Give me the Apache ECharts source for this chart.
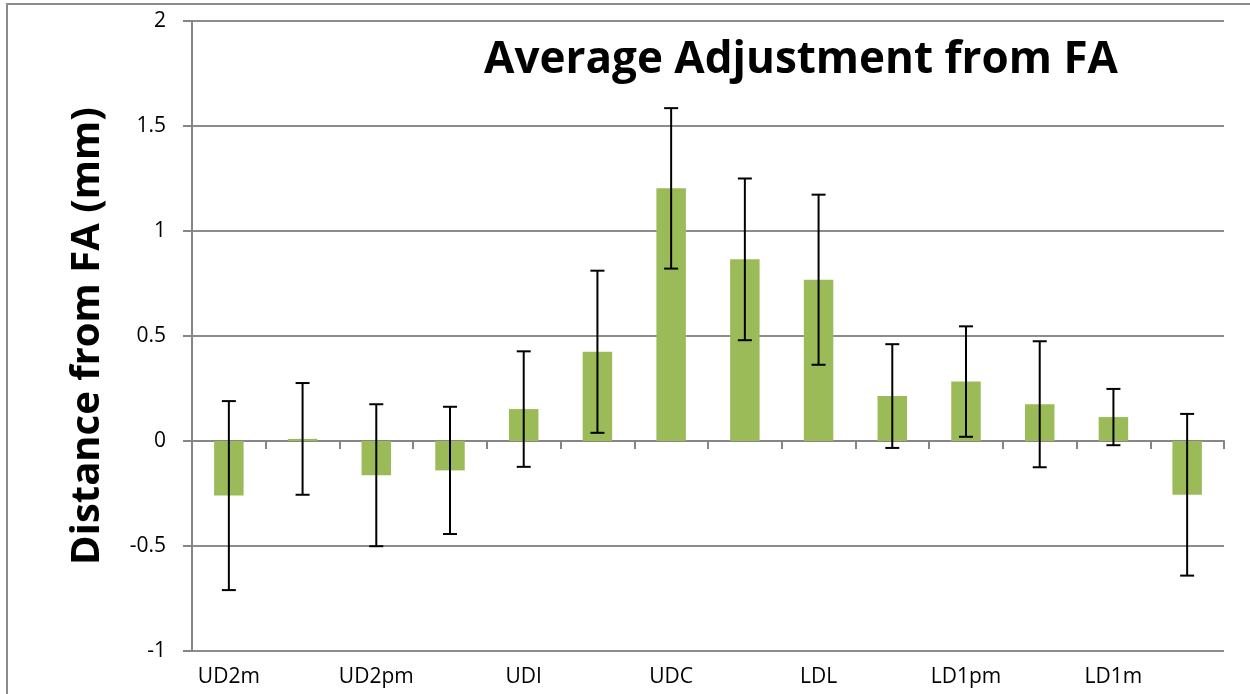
<!DOCTYPE html>
<html>
<head>
<meta charset="utf-8">
<script src="https://cdn.jsdelivr.net/npm/echarts@6/dist/echarts.min.js"></script>
<style>
  html, body { margin: 0; padding: 0; background: #fff; }
  #chart { width: 1250px; height: 694px; }
</style>
</head>
<body>
<div id="chart"></div>
<script>
var categories = ['UD2m', 'UD1m', 'UD2pm', 'UD1pm', 'UDI', 'UDL', 'UDC', 'LDC', 'LDL', 'LDI', 'LD1pm', 'LD2pm', 'LD1m', 'LD2m'];
var means = [-0.26, 0.01, -0.163, -0.14, 0.152, 0.425, 1.203, 0.865, 0.768, 0.214, 0.283, 0.175, 0.114, -0.256];
var errors = [0.45, 0.266, 0.338, 0.303, 0.275, 0.386, 0.382, 0.385, 0.405, 0.247, 0.263, 0.30, 0.134, 0.385];
var yTicks = [-1, -0.5, 0, 0.5, 1, 1.5, 2];

var chart = echarts.init(document.getElementById('chart'));

var errData = categories.map(function (c, i) {
    return [i, means[i] - errors[i], means[i] + errors[i]];
});

var option = {
    animation: false,
    graphic: [
        {
            type: 'rect',
            shape: { x: 7, y: 4, width: 1400, height: 900 },
            style: { fill: 'none', stroke: '#8c8c8c', lineWidth: 2 },
            z: -1
        }
    ],
    title: {
        text: 'Average Adjustment from FA',
        left: 796,
        top: 33,
        textAlign: 'center',
        textStyle: {
            fontFamily: 'Open Sans',
            fontWeight: 'bold',
            fontSize: 44,
            color: '#000'
        }
    },
    grid: { left: 192, top: 21, right: 26, bottom: 43 },
    xAxis: [
        {
            type: 'category',
            data: categories,
            axisLine: { onZero: true, lineStyle: { color: '#868686', width: 2 } },
            axisTick: { show: true, length: 8, lineStyle: { color: '#868686', width: 2 } },
            axisLabel: { show: false }
        },
        {
            type: 'category',
            data: categories,
            position: 'bottom',
            axisLine: { show: false, onZero: false },
            axisTick: { show: false },
            axisLabel: {
                interval: 1,
                margin: 16,
                fontFamily: 'Open Sans',
                fontSize: 21,
                color: '#000'
            }
        }
    ],
    yAxis: {
        type: 'value',
        min: -1,
        max: 2,
        interval: 0.5,
        name: 'Distance from FA (mm)',
        nameLocation: 'middle',
        nameGap: 84,
        nameRotate: 90,
        nameTextStyle: {
            fontFamily: 'Open Sans',
            fontWeight: 'bold',
            fontSize: 40,
            color: '#000'
        },
        axisLine: { show: true, lineStyle: { color: '#868686', width: 2 } },
        axisTick: { show: true, length: 9, lineStyle: { color: '#868686', width: 2 } },
        splitLine: { lineStyle: { color: '#8c8c8c', width: 2 } },
        axisLabel: {
            margin: 26,
            fontFamily: 'Open Sans',
            fontSize: 21,
            color: '#000',
            formatter: function (v) {
                return yTicks.indexOf(v) >= 0 ? String(v) : '';
            }
        }
    },
    series: [
        {
            type: 'bar',
            data: means,
            barWidth: '40%',
            itemStyle: { color: '#9BBB59' },
            z: 2
        },
        {
            type: 'custom',
            data: errData,
            z: 3,
            renderItem: function (params, api) {
                var x = api.value(0);
                var lo = api.coord([x, api.value(1)]);
                var hi = api.coord([x, api.value(2)]);
                var cap = 7;
                var style = { stroke: '#000', lineWidth: 2 };
                return {
                    type: 'group',
                    children: [
                        { type: 'line', shape: { x1: hi[0], y1: hi[1], x2: lo[0], y2: lo[1] }, style: style },
                        { type: 'line', shape: { x1: hi[0] - cap, y1: hi[1], x2: hi[0] + cap, y2: hi[1] }, style: style },
                        { type: 'line', shape: { x1: lo[0] - cap, y1: lo[1], x2: lo[0] + cap, y2: lo[1] }, style: style }
                    ]
                };
            }
        }
    ]
};

chart.setOption(option);

window.onresize = function () {
    chart.resize();
};
</script>
</body>
</html>
